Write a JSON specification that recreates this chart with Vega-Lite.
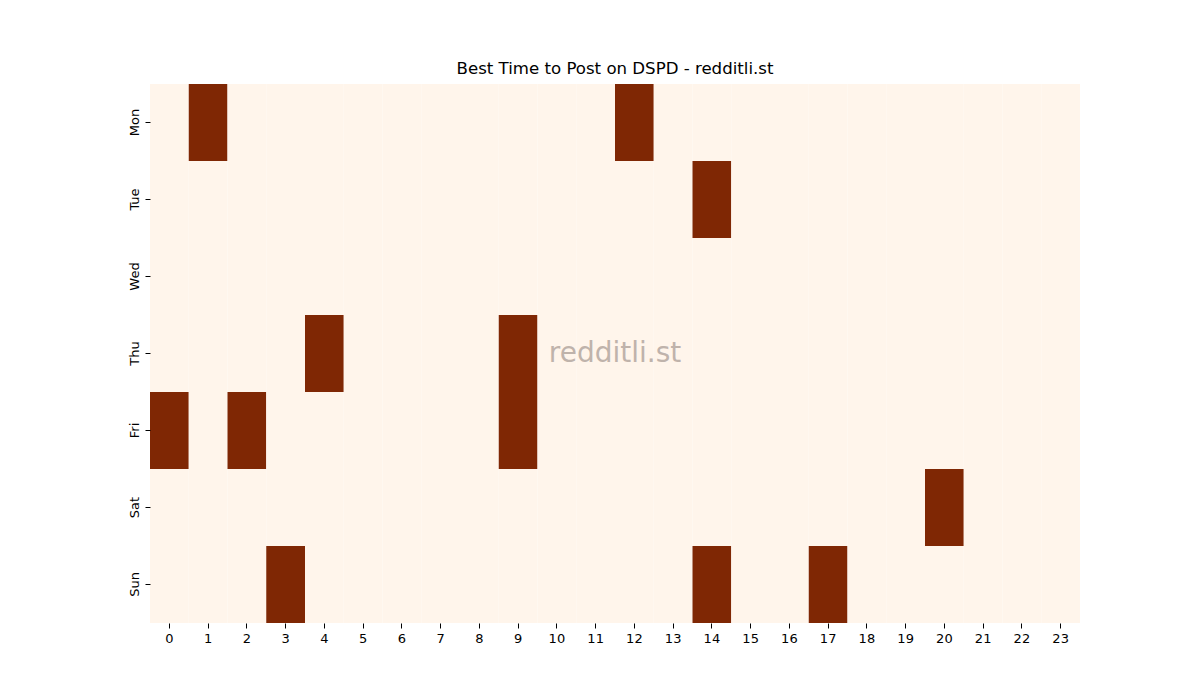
{
  "$schema": "https://vega.github.io/schema/vega-lite/v6.json",
  "description": "Heatmap of best time to post on DSPD by weekday and hour.",
  "autosize": "none",
  "padding": {"left": 150, "top": 84, "right": 120, "bottom": 77},
  "width": 930,
  "height": 539,
  "background": "white",
  "title": {
    "text": "Best Time to Post on DSPD - redditli.st",
    "font": "DejaVu Sans",
    "fontSize": 16.6,
    "fontWeight": "normal",
    "color": "black",
    "offset": 6
  },
  "datasets": {
    "cells": [
      {"day": "Mon", "hour": 0, "best": 0}, {"day": "Mon", "hour": 1, "best": 1}, {"day": "Mon", "hour": 2, "best": 0}, {"day": "Mon", "hour": 3, "best": 0},
      {"day": "Mon", "hour": 4, "best": 0}, {"day": "Mon", "hour": 5, "best": 0}, {"day": "Mon", "hour": 6, "best": 0}, {"day": "Mon", "hour": 7, "best": 0},
      {"day": "Mon", "hour": 8, "best": 0}, {"day": "Mon", "hour": 9, "best": 0}, {"day": "Mon", "hour": 10, "best": 0}, {"day": "Mon", "hour": 11, "best": 0},
      {"day": "Mon", "hour": 12, "best": 1}, {"day": "Mon", "hour": 13, "best": 0}, {"day": "Mon", "hour": 14, "best": 0}, {"day": "Mon", "hour": 15, "best": 0},
      {"day": "Mon", "hour": 16, "best": 0}, {"day": "Mon", "hour": 17, "best": 0}, {"day": "Mon", "hour": 18, "best": 0}, {"day": "Mon", "hour": 19, "best": 0},
      {"day": "Mon", "hour": 20, "best": 0}, {"day": "Mon", "hour": 21, "best": 0}, {"day": "Mon", "hour": 22, "best": 0}, {"day": "Mon", "hour": 23, "best": 0},
      {"day": "Tue", "hour": 0, "best": 0}, {"day": "Tue", "hour": 1, "best": 0}, {"day": "Tue", "hour": 2, "best": 0}, {"day": "Tue", "hour": 3, "best": 0},
      {"day": "Tue", "hour": 4, "best": 0}, {"day": "Tue", "hour": 5, "best": 0}, {"day": "Tue", "hour": 6, "best": 0}, {"day": "Tue", "hour": 7, "best": 0},
      {"day": "Tue", "hour": 8, "best": 0}, {"day": "Tue", "hour": 9, "best": 0}, {"day": "Tue", "hour": 10, "best": 0}, {"day": "Tue", "hour": 11, "best": 0},
      {"day": "Tue", "hour": 12, "best": 0}, {"day": "Tue", "hour": 13, "best": 0}, {"day": "Tue", "hour": 14, "best": 1}, {"day": "Tue", "hour": 15, "best": 0},
      {"day": "Tue", "hour": 16, "best": 0}, {"day": "Tue", "hour": 17, "best": 0}, {"day": "Tue", "hour": 18, "best": 0}, {"day": "Tue", "hour": 19, "best": 0},
      {"day": "Tue", "hour": 20, "best": 0}, {"day": "Tue", "hour": 21, "best": 0}, {"day": "Tue", "hour": 22, "best": 0}, {"day": "Tue", "hour": 23, "best": 0},
      {"day": "Wed", "hour": 0, "best": 0}, {"day": "Wed", "hour": 1, "best": 0}, {"day": "Wed", "hour": 2, "best": 0}, {"day": "Wed", "hour": 3, "best": 0},
      {"day": "Wed", "hour": 4, "best": 0}, {"day": "Wed", "hour": 5, "best": 0}, {"day": "Wed", "hour": 6, "best": 0}, {"day": "Wed", "hour": 7, "best": 0},
      {"day": "Wed", "hour": 8, "best": 0}, {"day": "Wed", "hour": 9, "best": 0}, {"day": "Wed", "hour": 10, "best": 0}, {"day": "Wed", "hour": 11, "best": 0},
      {"day": "Wed", "hour": 12, "best": 0}, {"day": "Wed", "hour": 13, "best": 0}, {"day": "Wed", "hour": 14, "best": 0}, {"day": "Wed", "hour": 15, "best": 0},
      {"day": "Wed", "hour": 16, "best": 0}, {"day": "Wed", "hour": 17, "best": 0}, {"day": "Wed", "hour": 18, "best": 0}, {"day": "Wed", "hour": 19, "best": 0},
      {"day": "Wed", "hour": 20, "best": 0}, {"day": "Wed", "hour": 21, "best": 0}, {"day": "Wed", "hour": 22, "best": 0}, {"day": "Wed", "hour": 23, "best": 0},
      {"day": "Thu", "hour": 0, "best": 0}, {"day": "Thu", "hour": 1, "best": 0}, {"day": "Thu", "hour": 2, "best": 0}, {"day": "Thu", "hour": 3, "best": 0},
      {"day": "Thu", "hour": 4, "best": 1}, {"day": "Thu", "hour": 5, "best": 0}, {"day": "Thu", "hour": 6, "best": 0}, {"day": "Thu", "hour": 7, "best": 0},
      {"day": "Thu", "hour": 8, "best": 0}, {"day": "Thu", "hour": 9, "best": 1}, {"day": "Thu", "hour": 10, "best": 0}, {"day": "Thu", "hour": 11, "best": 0},
      {"day": "Thu", "hour": 12, "best": 0}, {"day": "Thu", "hour": 13, "best": 0}, {"day": "Thu", "hour": 14, "best": 0}, {"day": "Thu", "hour": 15, "best": 0},
      {"day": "Thu", "hour": 16, "best": 0}, {"day": "Thu", "hour": 17, "best": 0}, {"day": "Thu", "hour": 18, "best": 0}, {"day": "Thu", "hour": 19, "best": 0},
      {"day": "Thu", "hour": 20, "best": 0}, {"day": "Thu", "hour": 21, "best": 0}, {"day": "Thu", "hour": 22, "best": 0}, {"day": "Thu", "hour": 23, "best": 0},
      {"day": "Fri", "hour": 0, "best": 1}, {"day": "Fri", "hour": 1, "best": 0}, {"day": "Fri", "hour": 2, "best": 1}, {"day": "Fri", "hour": 3, "best": 0},
      {"day": "Fri", "hour": 4, "best": 0}, {"day": "Fri", "hour": 5, "best": 0}, {"day": "Fri", "hour": 6, "best": 0}, {"day": "Fri", "hour": 7, "best": 0},
      {"day": "Fri", "hour": 8, "best": 0}, {"day": "Fri", "hour": 9, "best": 1}, {"day": "Fri", "hour": 10, "best": 0}, {"day": "Fri", "hour": 11, "best": 0},
      {"day": "Fri", "hour": 12, "best": 0}, {"day": "Fri", "hour": 13, "best": 0}, {"day": "Fri", "hour": 14, "best": 0}, {"day": "Fri", "hour": 15, "best": 0},
      {"day": "Fri", "hour": 16, "best": 0}, {"day": "Fri", "hour": 17, "best": 0}, {"day": "Fri", "hour": 18, "best": 0}, {"day": "Fri", "hour": 19, "best": 0},
      {"day": "Fri", "hour": 20, "best": 0}, {"day": "Fri", "hour": 21, "best": 0}, {"day": "Fri", "hour": 22, "best": 0}, {"day": "Fri", "hour": 23, "best": 0},
      {"day": "Sat", "hour": 0, "best": 0}, {"day": "Sat", "hour": 1, "best": 0}, {"day": "Sat", "hour": 2, "best": 0}, {"day": "Sat", "hour": 3, "best": 0},
      {"day": "Sat", "hour": 4, "best": 0}, {"day": "Sat", "hour": 5, "best": 0}, {"day": "Sat", "hour": 6, "best": 0}, {"day": "Sat", "hour": 7, "best": 0},
      {"day": "Sat", "hour": 8, "best": 0}, {"day": "Sat", "hour": 9, "best": 0}, {"day": "Sat", "hour": 10, "best": 0}, {"day": "Sat", "hour": 11, "best": 0},
      {"day": "Sat", "hour": 12, "best": 0}, {"day": "Sat", "hour": 13, "best": 0}, {"day": "Sat", "hour": 14, "best": 0}, {"day": "Sat", "hour": 15, "best": 0},
      {"day": "Sat", "hour": 16, "best": 0}, {"day": "Sat", "hour": 17, "best": 0}, {"day": "Sat", "hour": 18, "best": 0}, {"day": "Sat", "hour": 19, "best": 0},
      {"day": "Sat", "hour": 20, "best": 1}, {"day": "Sat", "hour": 21, "best": 0}, {"day": "Sat", "hour": 22, "best": 0}, {"day": "Sat", "hour": 23, "best": 0},
      {"day": "Sun", "hour": 0, "best": 0}, {"day": "Sun", "hour": 1, "best": 0}, {"day": "Sun", "hour": 2, "best": 0}, {"day": "Sun", "hour": 3, "best": 1},
      {"day": "Sun", "hour": 4, "best": 0}, {"day": "Sun", "hour": 5, "best": 0}, {"day": "Sun", "hour": 6, "best": 0}, {"day": "Sun", "hour": 7, "best": 0},
      {"day": "Sun", "hour": 8, "best": 0}, {"day": "Sun", "hour": 9, "best": 0}, {"day": "Sun", "hour": 10, "best": 0}, {"day": "Sun", "hour": 11, "best": 0},
      {"day": "Sun", "hour": 12, "best": 0}, {"day": "Sun", "hour": 13, "best": 0}, {"day": "Sun", "hour": 14, "best": 1}, {"day": "Sun", "hour": 15, "best": 0},
      {"day": "Sun", "hour": 16, "best": 0}, {"day": "Sun", "hour": 17, "best": 1}, {"day": "Sun", "hour": 18, "best": 0}, {"day": "Sun", "hour": 19, "best": 0},
      {"day": "Sun", "hour": 20, "best": 0}, {"day": "Sun", "hour": 21, "best": 0}, {"day": "Sun", "hour": 22, "best": 0}, {"day": "Sun", "hour": 23, "best": 0}
    ],
    "mark": [
      {"label": "redditli.st", "day": "Thu", "hour": 12}
    ]
  },
  "config": {
    "view": {"stroke": null},
    "axis": {
      "labelFont": "DejaVu Sans",
      "labelFontSize": 13,
      "labelColor": "black",
      "tickColor": "black",
      "tickSize": 5,
      "tickWidth": 1,
      "labelPadding": 4,
      "domain": false,
      "grid": false,
      "title": null
    }
  },
  "layer": [
    {
      "data": {"name": "cells"},
      "mark": {"type": "rect"},
      "encoding": {
        "x": {
          "field": "hour",
          "type": "ordinal",
          "sort": "ascending",
          "scale": {"paddingInner": 0, "paddingOuter": 0},
          "axis": {"labelAngle": 0, "orient": "bottom"}
        },
        "y": {
          "field": "day",
          "type": "ordinal",
          "sort": ["Mon", "Tue", "Wed", "Thu", "Fri", "Sat", "Sun"],
          "scale": {"paddingInner": 0, "paddingOuter": 0},
          "axis": {"labelAngle": -90, "labelAlign": "center", "labelBaseline": "bottom"}
        },
        "color": {
          "field": "best",
          "type": "quantitative",
          "scale": {"domain": [0, 1], "range": ["#fff5eb", "#7f2704"]},
          "legend": null
        }
      }
    },
    {
      "data": {"name": "mark"},
      "mark": {
        "type": "text",
        "font": "DejaVu Sans",
        "fontSize": 28,
        "color": "#bfb3ab",
        "align": "center",
        "baseline": "middle"
      },
      "encoding": {
        "x": {"field": "hour", "type": "ordinal", "sort": "ascending", "bandPosition": 0},
        "y": {"field": "day", "type": "ordinal", "sort": ["Mon", "Tue", "Wed", "Thu", "Fri", "Sat", "Sun"]},
        "text": {"field": "label"}
      }
    }
  ]
}
